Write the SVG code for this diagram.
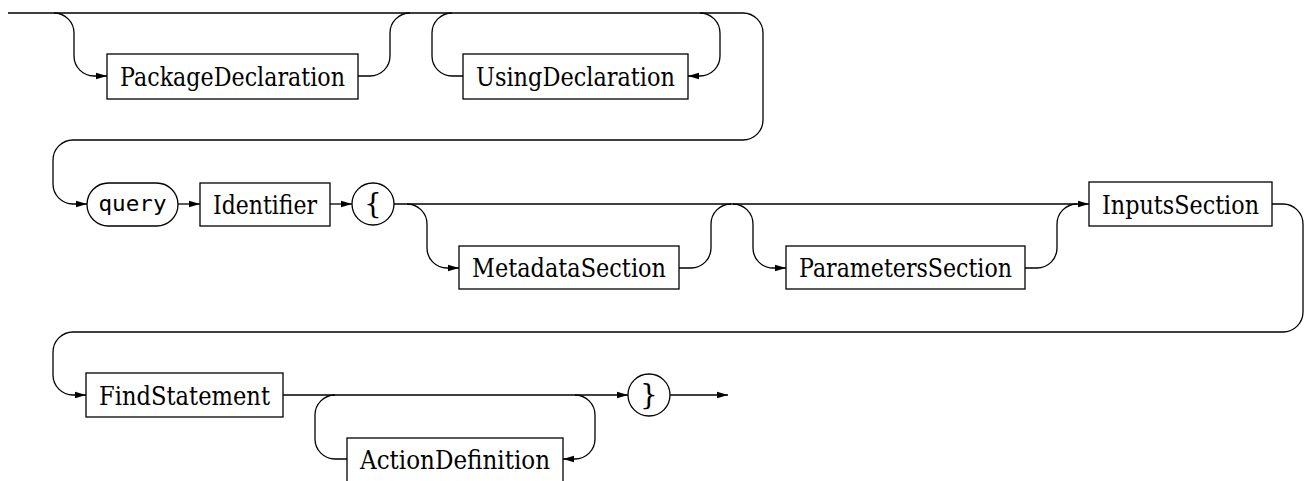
<svg xmlns="http://www.w3.org/2000/svg" width="1304" height="481" viewBox="0 0 1304 481">
<style>
.w{fill:none;stroke:#000;stroke-width:1.3}
.b{fill:#fff;stroke:#000;stroke-width:1.3}
.t{font-family:"DejaVu Serif","Liberation Serif",serif;font-size:26.5px;text-anchor:middle;fill:#000}
.br{font-family:"DejaVu Serif","Liberation Serif",serif;font-size:28px;text-anchor:middle;fill:#000}
.m{font-family:"DejaVu Sans Mono","Liberation Mono",monospace;font-size:22px;text-anchor:middle;fill:#000}
</style>
<defs>
<marker id="ah" markerUnits="userSpaceOnUse" markerWidth="12" markerHeight="8" refX="11" refY="4" orient="auto">
<path d="M0,0.8 L11,4 L0,7.2 Z" fill="#000"/>
</marker>
</defs>
<rect width="1304" height="481" fill="#fff"/>
<g id="connectors">
<path class="w" d="M8,13 H743 A20,20 0 0 1 763,33 V120 A20,20 0 0 1 743,140 H73 A20,20 0 0 0 53,160 V184 A20,20 0 0 0 73,204 H87" marker-end="url(#ah)"/>
<path class="w" d="M54,13 A20,20 0 0 1 74,33 V56 A20,20 0 0 0 94,76 H107" marker-end="url(#ah)"/>
<path class="w" d="M358,76 H370 A20,20 0 0 0 390,56 V33 A20,20 0 0 1 410,13"/>
<path class="w" d="M463,76 H452 A20,20 0 0 1 432,56 V33 A20,20 0 0 1 452,13"/>
<path class="w" d="M700,13 A20,20 0 0 1 720,33 V56 A20,20 0 0 1 700,76 H688" marker-end="url(#ah)"/>
<path class="w" d="M178,204 H200" marker-end="url(#ah)"/>
<path class="w" d="M330,204 H352" marker-end="url(#ah)"/>
<path class="w" d="M394,204 H1089" marker-end="url(#ah)"/>
<path class="w" d="M407,204 A20,20 0 0 1 427,224 V248 A20,20 0 0 0 447,268 H459" marker-end="url(#ah)"/>
<path class="w" d="M679,268 H691 A20,20 0 0 0 711,248 V224 A20,20 0 0 1 731,204"/>
<path class="w" d="M733,204 A20,20 0 0 1 753,224 V248 A20,20 0 0 0 773,268 H786" marker-end="url(#ah)"/>
<path class="w" d="M1025,268 H1037 A20,20 0 0 0 1057,248 V224 A20,20 0 0 1 1077,204"/>
<path class="w" d="M1272,204 H1283 A20,20 0 0 1 1303,224 V312 A20,20 0 0 1 1283,332 H73 A20,20 0 0 0 53,352 V375 A20,20 0 0 0 73,395 H86" marker-end="url(#ah)"/>
<path class="w" d="M283,395 H628" marker-end="url(#ah)"/>
<path class="w" d="M347,459 H335 A20,20 0 0 1 315,439 V415 A20,20 0 0 1 335,395"/>
<path class="w" d="M575,395 A20,20 0 0 1 595,415 V439 A20,20 0 0 1 575,459 H563" marker-end="url(#ah)"/>
<path class="w" d="M670,395 H728" marker-end="url(#ah)"/>
</g>
<g id="PackageDeclaration"><rect class="b" x="107" y="54" width="251" height="45"/><text class="t" x="232.5" y="86" textLength="225" lengthAdjust="spacingAndGlyphs">PackageDeclaration</text></g>
<g id="UsingDeclaration"><rect class="b" x="463" y="54" width="225" height="45"/><text class="t" x="575.5" y="86" textLength="199" lengthAdjust="spacingAndGlyphs">UsingDeclaration</text></g>
<g id="query"><rect class="b" x="87" y="183" width="91" height="43" rx="21.5"/><text class="m" x="132.5" y="211" textLength="68" lengthAdjust="spacingAndGlyphs">query</text></g>
<g id="Identifier"><rect class="b" x="200" y="183" width="130" height="43"/><text class="t" x="265" y="214" textLength="104" lengthAdjust="spacingAndGlyphs">Identifier</text></g>
<g id="lbrace"><circle class="b" cx="373" cy="204" r="21"/><text class="br" x="373" y="213">{</text></g>
<g id="MetadataSection"><rect class="b" x="459" y="246" width="220" height="43"/><text class="t" x="569" y="277" textLength="194" lengthAdjust="spacingAndGlyphs">MetadataSection</text></g>
<g id="ParametersSection"><rect class="b" x="786" y="246" width="239" height="43"/><text class="t" x="905.5" y="277" textLength="213" lengthAdjust="spacingAndGlyphs">ParametersSection</text></g>
<g id="InputsSection"><rect class="b" x="1089" y="182" width="183" height="44"/><text class="t" x="1180.5" y="214" textLength="157" lengthAdjust="spacingAndGlyphs">InputsSection</text></g>
<g id="FindStatement"><rect class="b" x="86" y="373" width="197" height="44"/><text class="t" x="184.5" y="405" textLength="171" lengthAdjust="spacingAndGlyphs">FindStatement</text></g>
<g id="ActionDefinition"><rect class="b" x="347" y="438" width="216" height="44"/><text class="t" x="455" y="469" textLength="190" lengthAdjust="spacingAndGlyphs">ActionDefinition</text></g>
<g id="rbrace"><circle class="b" cx="649" cy="395" r="21"/><text class="br" x="649" y="404">}</text></g>
</svg>
